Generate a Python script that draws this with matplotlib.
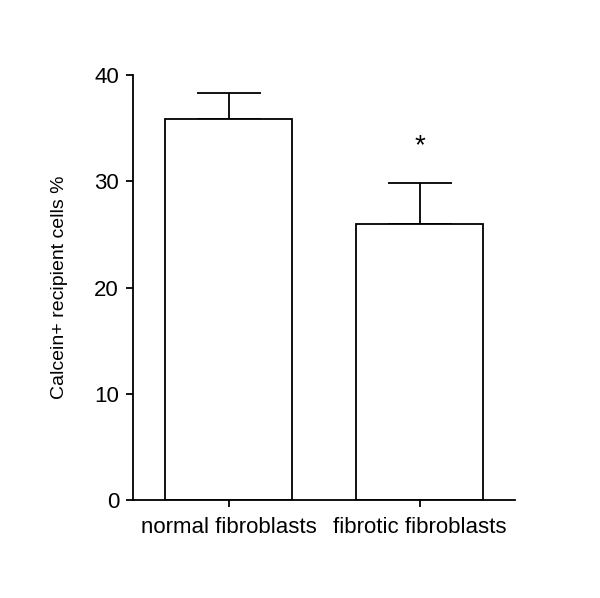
import matplotlib
matplotlib.use("Agg")
import matplotlib.pyplot as plt

categories = ["normal fibroblasts", "fibrotic fibroblasts"]
means = [35.9, 26.0]
errors = [2.4, 3.8]
yticks = [0, 10, 20, 30, 40]
sig_labels = ["", "*"]

plt.rcParams['font.family'] = ['Liberation Sans', 'DejaVu Sans']
fig = plt.figure(figsize=(6.0, 5.98), dpi=100)
ax = fig.add_axes([133/600, (598-500)/598, (515-133)/600, (500-75)/598])

x = list(range(len(categories)))
lw = 1.3
ax.bar(x, means, width=0.667, color='white', edgecolor='black', linewidth=lw, zorder=2)
ax.errorbar(x, means, yerr=[[0]*len(errors), errors], fmt='none', ecolor='black',
            elinewidth=lw, capsize=23, capthick=lw, zorder=1)
for xi, m, e, s in zip(x, means, errors, sig_labels):
    if s:
        ax.text(xi, m + e + 3.5, s, ha='center', va='center', fontsize=20)

ax.set_xlim(-0.5, 1.5)
ax.set_ylim(0, 40)
ax.set_yticks(yticks)
ax.set_xticks(x)
ax.set_xticklabels(categories, fontsize=16)
ax.tick_params(axis='y', labelsize=16, width=lw, length=5, pad=5)
ax.tick_params(axis='x', width=lw, length=5, pad=7)
ax.set_ylabel("Calcein+ recipient cells %", fontsize=14, labelpad=19)
for sp in ['top', 'right']:
    ax.spines[sp].set_visible(False)
for sp in ['left', 'bottom']:
    ax.spines[sp].set_linewidth(lw)

fig.savefig("out.png", dpi=100)
